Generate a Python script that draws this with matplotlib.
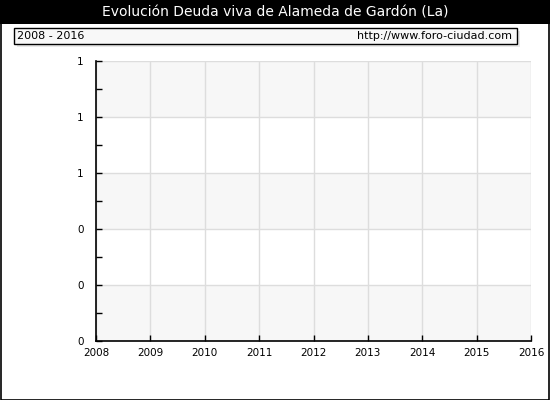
import matplotlib.pyplot as plt
from matplotlib.patches import Rectangle

# chart content
title = 'Evolución Deuda viva de Alameda de Gardón (La)'
period = '2008 - 2016'
source = 'http://www.foro-ciudad.com'
years = [2008, 2009, 2010, 2011, 2012, 2013, 2014, 2015, 2016]
y_ticks = [0, 0.2, 0.4, 0.6, 0.8, 1.0]
y_labels = ['%d' % round(v) for v in y_ticks]

W, H = 550, 400
fig = plt.figure(figsize=(W / 100, H / 100), dpi=100)
fig.patch.set_facecolor('white')

# black title bar
fig.patches.append(Rectangle((0, 1 - 24 / H), 1, 24 / H, transform=fig.transFigure,
                             facecolor='black', edgecolor='none', zorder=0))
fig.text(0.5, 1 - 12.5 / H, title, color='white', ha='center', va='center', fontsize=10)

# outer border
fig.patches.append(Rectangle((0.5 / W, 0.5 / H), 1 - 2 / W, 1 - 2 / H, transform=fig.transFigure,
                             facecolor='none', edgecolor='black', linewidth=1.2, zorder=5))

# info box with shadow
bx0, bx1, by0, by1 = 14, 517, 28, 44
fig.patches.append(Rectangle(((bx0 + 3) / W, 1 - (by1 + 3) / H), (bx1 - bx0) / W, (by1 - by0) / H,
                             transform=fig.transFigure, facecolor='#e8e8e8', edgecolor='none', zorder=1))
fig.patches.append(Rectangle((bx0 / W, 1 - by1 / H), (bx1 - bx0) / W, (by1 - by0) / H,
                             transform=fig.transFigure, facecolor='#f8f8f8', edgecolor='black',
                             linewidth=1, zorder=2))
fig.text((bx0 + 3) / W, 1 - 36 / H, period, ha='left', va='center', fontsize=8, zorder=3)
fig.text((bx1 - 5) / W, 1 - 36 / H, source, ha='right', va='center', fontsize=8, zorder=3)

# plot area
ax = fig.add_axes([96 / W, (H - 341) / H, (531 - 96) / W, (341 - 61) / H])
ax.set_xlim(years[0], years[-1])
ax.set_ylim(y_ticks[0], y_ticks[-1])

# alternating bands
for i in range(len(y_ticks) - 1):
    if i % 2 == 0:
        ax.axhspan(y_ticks[i], y_ticks[i + 1], facecolor='#f7f7f7', edgecolor='none', zorder=0)

ax.set_xticks(years)
ax.set_yticks(y_ticks)
ax.set_yticklabels(y_labels)
ax.set_yticks([(a + b) / 2 for a, b in zip(y_ticks[:-1], y_ticks[1:])], minor=True)
ax.grid(True, which='major', color='#dddddd', linewidth=1, zorder=1)
ax.set_axisbelow(True)

ax.tick_params(which='both', direction='in', length=4, width=1, colors='black', labelsize=7.5)
ax.tick_params(axis='y', pad=9)
ax.tick_params(axis='x', pad=5)

for side in ['top', 'right']:
    ax.spines[side].set_visible(False)
for side in ['left', 'bottom']:
    ax.spines[side].set_linewidth(1.2)

fig.savefig('out.png', dpi=100)
